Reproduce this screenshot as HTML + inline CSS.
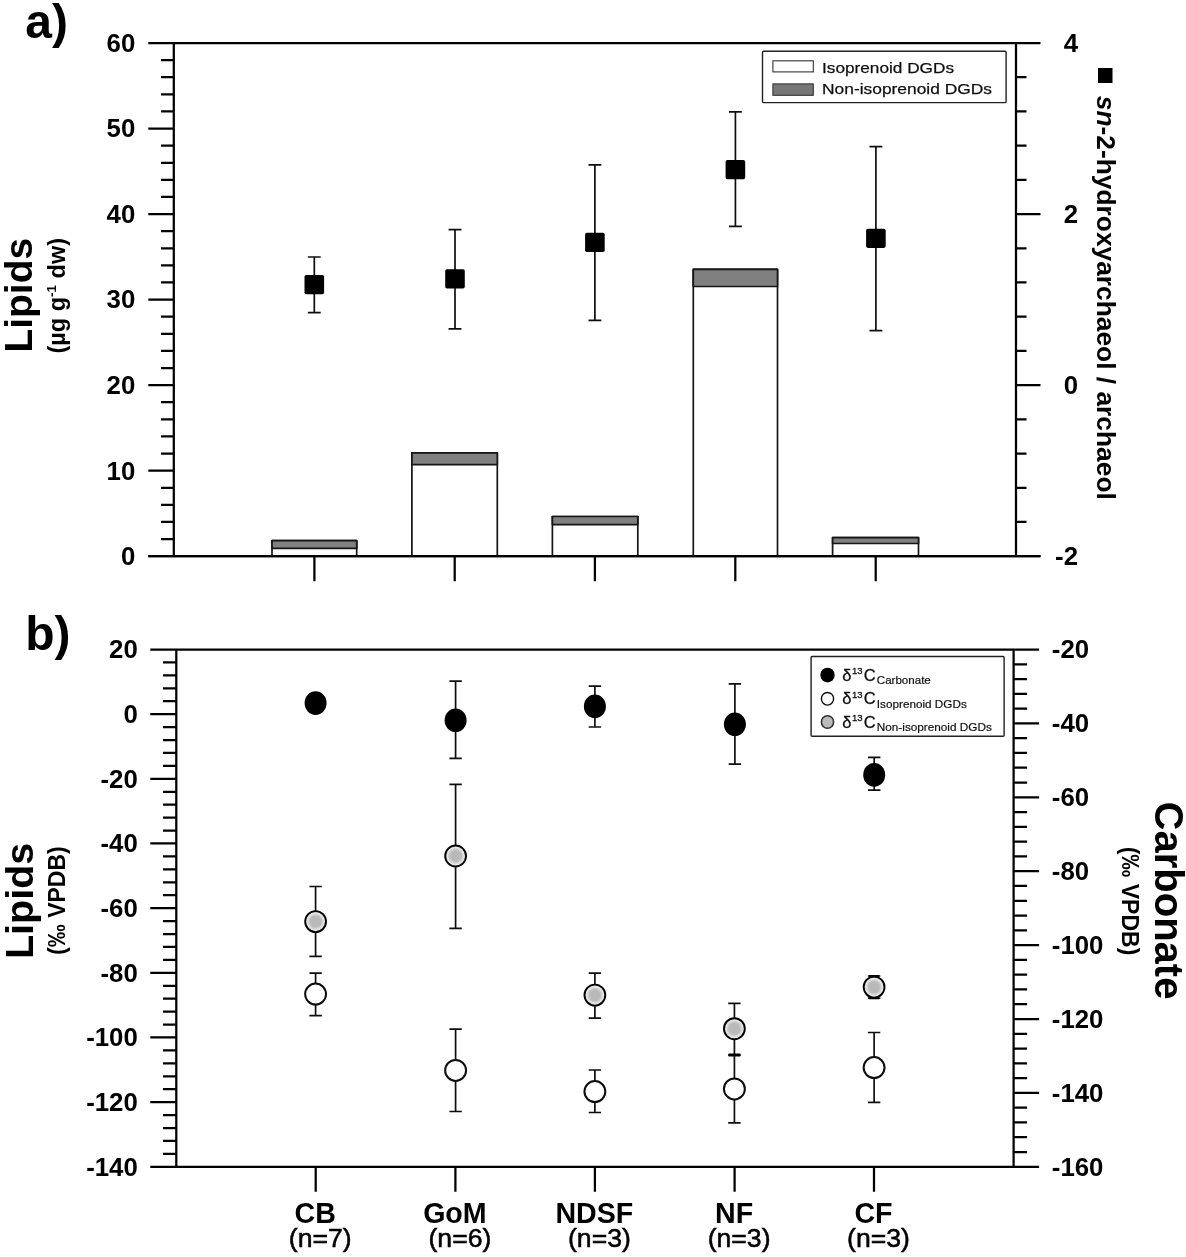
<!DOCTYPE html>
<html><head><meta charset="utf-8"><title>Figure</title>
<style>html,body{margin:0;padding:0;background:#fff}svg{display:block}</style>
</head><body>
<svg width="1186" height="1257" viewBox="0 0 1186 1257">
<defs><filter id="soft" x="0" y="0" width="100%" height="100%" filterUnits="userSpaceOnUse"><feGaussianBlur stdDeviation="0.5"/></filter><filter id="b1" x="-30%" y="-30%" width="160%" height="160%"><feGaussianBlur stdDeviation="0.9"/></filter></defs>
<rect width="1186" height="1257" fill="#fff"/>
<g filter="url(#soft)">
<g stroke="#000" stroke-width="2.25" fill="none" stroke-linecap="butt">
<path d="M148.3,43.0H1040.5"/>
<path d="M148.3,556.2H1040.5"/>
<path d="M173.8,43.0V556.2"/>
<path d="M1016.0,43.0V556.2"/>
<path d="M161.0,539.09H173.8M161.0,521.99H173.8M161.0,504.88H173.8M161.0,487.77H173.8M148.3,470.67H173.8M161.0,453.56H173.8M161.0,436.45H173.8M161.0,419.35H173.8M161.0,402.24H173.8M148.3,385.13H173.8M161.0,368.03H173.8M161.0,350.92H173.8M161.0,333.81H173.8M161.0,316.71H173.8M148.3,299.60H173.8M161.0,282.49H173.8M161.0,265.39H173.8M161.0,248.28H173.8M161.0,231.17H173.8M148.3,214.07H173.8M161.0,196.96H173.8M161.0,179.85H173.8M161.0,162.75H173.8M161.0,145.64H173.8M148.3,128.53H173.8M161.0,111.43H173.8M161.0,94.32H173.8M161.0,77.21H173.8M161.0,60.11H173.8"/>
<path d="M1016.0,521.99H1026.5M1016.0,487.77H1026.5M1016.0,453.56H1026.5M1016.0,419.35H1026.5M1016.0,385.13H1040.5M1016.0,350.92H1026.5M1016.0,316.71H1026.5M1016.0,282.49H1026.5M1016.0,248.28H1026.5M1016.0,214.07H1040.5M1016.0,179.85H1026.5M1016.0,145.64H1026.5M1016.0,111.43H1026.5M1016.0,77.21H1026.5"/>
<path d="M314.4,556.2V581.2M454.7,556.2V581.2M594.9,556.2V581.2M735.3,556.2V581.2M875.7,556.2V581.2"/>
</g>
<g stroke="#151515" stroke-width="1.7" stroke-linejoin="round">
<rect x="272.0" y="540.7" width="84.7" height="15.5" fill="#fff"/>
<rect x="272.0" y="540.7" width="84.7" height="7.7" fill="#808080"/>
<rect x="411.9" y="452.8" width="85.4" height="103.4" fill="#fff"/>
<rect x="411.9" y="452.8" width="85.4" height="11.8" fill="#808080"/>
<rect x="552.4" y="516.5" width="85.4" height="39.7" fill="#fff"/>
<rect x="552.4" y="516.5" width="85.4" height="8.1" fill="#808080"/>
<rect x="693.3" y="269.4" width="84.2" height="286.8" fill="#fff"/>
<rect x="693.3" y="269.4" width="84.2" height="17.1" fill="#808080"/>
<rect x="832.6" y="537.7" width="85.9" height="18.5" fill="#fff"/>
<rect x="832.6" y="537.7" width="85.9" height="5.8" fill="#808080"/>
</g>
<path d="M148.3,556.2H1040.5" stroke="#000" stroke-width="2.25"/>
<path d="M314.3,257.0V312.6M307.90000000000003,257.0H320.7M307.90000000000003,312.6H320.7" stroke="#111" stroke-width="1.7" fill="none"/>
<rect x="304.5" y="275.0" width="19.6" height="19.2" rx="1.8" fill="#000"/>
<path d="M455.0,229.6V328.8M448.6,229.6H461.4M448.6,328.8H461.4" stroke="#111" stroke-width="1.7" fill="none"/>
<rect x="445.2" y="269.29999999999995" width="19.6" height="19.2" rx="1.8" fill="#000"/>
<path d="M594.9,164.9V320.4M588.5,164.9H601.3M588.5,320.4H601.3" stroke="#111" stroke-width="1.7" fill="none"/>
<rect x="585.1" y="232.8" width="19.6" height="19.2" rx="1.8" fill="#000"/>
<path d="M735.4,111.9V226.4M729.0,111.9H741.8M729.0,226.4H741.8" stroke="#111" stroke-width="1.7" fill="none"/>
<rect x="725.6" y="160.1" width="19.6" height="19.2" rx="1.8" fill="#000"/>
<path d="M875.9,146.6V330.7M869.5,146.6H882.3M869.5,330.7H882.3" stroke="#111" stroke-width="1.7" fill="none"/>
<rect x="866.1" y="228.70000000000002" width="19.6" height="19.2" rx="1.8" fill="#000"/>
<rect x="762.5" y="51.3" width="243.6" height="51.3" fill="#fff" stroke="#222" stroke-width="1.4" rx="1"/>
<rect x="772.9" y="60.8" width="40.4" height="11.1" fill="#fff" stroke="#333" stroke-width="1.1"/>
<rect x="772.9" y="83.9" width="40.4" height="11.4" fill="#777" stroke="#333" stroke-width="1.1"/>
<g font-family="Liberation Sans, Arial, sans-serif" font-size="15.5" fill="#111" stroke="#111" stroke-width="0.25">
<text x="822" y="72.6" textLength="132" lengthAdjust="spacingAndGlyphs">Isoprenoid DGDs</text>
<text x="822" y="94.0" textLength="170" lengthAdjust="spacingAndGlyphs">Non-isoprenoid DGDs</text>
</g>
<g font-family="Liberation Sans, Arial, sans-serif" font-weight="bold" font-size="25.8" fill="#000">
<text x="135.3" y="565.0" text-anchor="end">0</text>
<text x="135.3" y="479.5" text-anchor="end">10</text>
<text x="135.3" y="393.9" text-anchor="end">20</text>
<text x="135.3" y="308.4" text-anchor="end">30</text>
<text x="135.3" y="222.9" text-anchor="end">40</text>
<text x="135.3" y="137.3" text-anchor="end">50</text>
<text x="135.3" y="51.8" text-anchor="end">60</text>
<text x="1078" y="565.0" text-anchor="end">-2</text>
<text x="1078" y="393.9" text-anchor="end">0</text>
<text x="1078" y="222.9" text-anchor="end">2</text>
<text x="1078" y="51.8" text-anchor="end">4</text>
</g>
<g stroke="#000" stroke-width="2.25" fill="none">
<path d="M150.3,649.5H1039.1"/>
<path d="M150.3,1166.8H1039.1"/>
<path d="M176.3,649.5V1166.8"/>
<path d="M1013.6,649.5V1166.8"/>
<path d="M163.0,662.43H176.3M163.0,675.37H176.3M163.0,688.30H176.3M163.0,701.23H176.3M150.3,714.16H176.3M163.0,727.10H176.3M163.0,740.03H176.3M163.0,752.96H176.3M163.0,765.89H176.3M150.3,778.83H176.3M163.0,791.76H176.3M163.0,804.69H176.3M163.0,817.62H176.3M163.0,830.55H176.3M150.3,843.49H176.3M163.0,856.42H176.3M163.0,869.35H176.3M163.0,882.28H176.3M163.0,895.22H176.3M150.3,908.15H176.3M163.0,921.08H176.3M163.0,934.01H176.3M163.0,946.95H176.3M163.0,959.88H176.3M150.3,972.81H176.3M163.0,985.75H176.3M163.0,998.68H176.3M163.0,1011.61H176.3M163.0,1024.54H176.3M150.3,1037.47H176.3M163.0,1050.41H176.3M163.0,1063.34H176.3M163.0,1076.27H176.3M163.0,1089.20H176.3M150.3,1102.14H176.3M163.0,1115.07H176.3M163.0,1128.00H176.3M163.0,1140.93H176.3M163.0,1153.87H176.3"/>
<path d="M1013.6,664.28H1027.1M1013.6,679.06H1027.1M1013.6,693.84H1027.1M1013.6,708.62H1027.1M1013.6,723.40H1039.1M1013.6,738.18H1027.1M1013.6,752.96H1027.1M1013.6,767.74H1027.1M1013.6,782.52H1027.1M1013.6,797.30H1039.1M1013.6,812.08H1027.1M1013.6,826.86H1027.1M1013.6,841.64H1027.1M1013.6,856.42H1027.1M1013.6,871.20H1039.1M1013.6,885.98H1027.1M1013.6,900.76H1027.1M1013.6,915.54H1027.1M1013.6,930.32H1027.1M1013.6,945.10H1039.1M1013.6,959.88H1027.1M1013.6,974.66H1027.1M1013.6,989.44H1027.1M1013.6,1004.22H1027.1M1013.6,1019.00H1039.1M1013.6,1033.78H1027.1M1013.6,1048.56H1027.1M1013.6,1063.34H1027.1M1013.6,1078.12H1027.1M1013.6,1092.90H1039.1M1013.6,1107.68H1027.1M1013.6,1122.46H1027.1M1013.6,1137.24H1027.1M1013.6,1152.02H1027.1"/>
<path d="M315.7,1166.8V1191.8M455.4,1166.8V1191.8M594.9,1166.8V1191.8M734.6,1166.8V1191.8M874.0,1166.8V1191.8"/>
</g>
<path d="M315.6,973.2V1015.7M309.40000000000003,973.2H321.8M309.40000000000003,1015.7H321.8" stroke="#111" stroke-width="1.7" fill="none"/>
<ellipse cx="315.6" cy="994.1" rx="10.45" ry="10.5" fill="#fff" stroke="#0a0a0a" stroke-width="2.0"/>
<path d="M455.6,1029.2V1111.5M449.40000000000003,1029.2H461.8M449.40000000000003,1111.5H461.8" stroke="#111" stroke-width="1.7" fill="none"/>
<ellipse cx="455.6" cy="1070.4" rx="10.45" ry="10.5" fill="#fff" stroke="#0a0a0a" stroke-width="2.0"/>
<path d="M594.9,1070.0V1112.5M588.6999999999999,1070.0H601.1M588.6999999999999,1112.5H601.1" stroke="#111" stroke-width="1.7" fill="none"/>
<ellipse cx="594.9" cy="1091.6" rx="10.45" ry="10.5" fill="#fff" stroke="#0a0a0a" stroke-width="2.0"/>
<path d="M734.4,1055.0V1122.9M728.1999999999999,1055.0H740.6M728.1999999999999,1122.9H740.6" stroke="#111" stroke-width="1.7" fill="none"/>
<ellipse cx="734.4" cy="1088.9" rx="10.45" ry="10.5" fill="#fff" stroke="#0a0a0a" stroke-width="2.0"/>
<path d="M874.1,1032.5V1102.4M867.9,1032.5H880.3000000000001M867.9,1102.4H880.3000000000001" stroke="#111" stroke-width="1.7" fill="none"/>
<ellipse cx="874.1" cy="1067.6" rx="10.45" ry="10.5" fill="#fff" stroke="#0a0a0a" stroke-width="2.0"/>
<path d="M315.6,886.5V956.4M309.40000000000003,886.5H321.8M309.40000000000003,956.4H321.8" stroke="#111" stroke-width="1.7" fill="none"/>
<ellipse cx="315.6" cy="921.6" rx="10.4" ry="10.5" fill="#eaeaea" stroke="#050505" stroke-width="1.95"/>
<ellipse cx="315.6" cy="921.6" rx="7.1" ry="7.2" fill="#b9b9b9" filter="url(#b1)"/>
<path d="M455.6,784.4V928.4M449.40000000000003,784.4H461.8M449.40000000000003,928.4H461.8" stroke="#111" stroke-width="1.7" fill="none"/>
<ellipse cx="455.6" cy="856.0" rx="10.4" ry="10.5" fill="#eaeaea" stroke="#050505" stroke-width="1.95"/>
<ellipse cx="455.6" cy="856.0" rx="7.1" ry="7.2" fill="#b9b9b9" filter="url(#b1)"/>
<path d="M594.9,973.2V1018.1M588.6999999999999,973.2H601.1M588.6999999999999,1018.1H601.1" stroke="#111" stroke-width="1.7" fill="none"/>
<ellipse cx="594.9" cy="995.1" rx="10.4" ry="10.5" fill="#eaeaea" stroke="#050505" stroke-width="1.95"/>
<ellipse cx="594.9" cy="995.1" rx="7.1" ry="7.2" fill="#b9b9b9" filter="url(#b1)"/>
<path d="M734.4,1003.4V1055.0M728.1999999999999,1003.4H740.6M728.1999999999999,1055.0H740.6" stroke="#111" stroke-width="1.7" fill="none"/>
<ellipse cx="734.4" cy="1028.7" rx="10.4" ry="10.5" fill="#eaeaea" stroke="#050505" stroke-width="1.95"/>
<ellipse cx="734.4" cy="1028.7" rx="7.1" ry="7.2" fill="#b9b9b9" filter="url(#b1)"/>
<path d="M874.1,976.0V998.2M867.9,976.0H880.3000000000001M867.9,998.2H880.3000000000001" stroke="#111" stroke-width="1.7" fill="none"/>
<ellipse cx="874.1" cy="987.1" rx="10.4" ry="10.5" fill="#eaeaea" stroke="#050505" stroke-width="1.95"/>
<ellipse cx="874.1" cy="987.1" rx="7.1" ry="7.2" fill="#b9b9b9" filter="url(#b1)"/>
<path d="M728.6,1055H740.2" stroke="#000" stroke-width="3"/>
<path d="M869.0,976.1H879.2M869.0,998.1H879.2" stroke="#050505" stroke-width="2.3"/>
<ellipse cx="315.6" cy="703.1" rx="11" ry="11.8" fill="#000"/>
<path d="M455.6,681.1V758.4M449.40000000000003,681.1H461.8M449.40000000000003,758.4H461.8" stroke="#111" stroke-width="1.7" fill="none"/>
<ellipse cx="455.6" cy="720.3" rx="11" ry="11.8" fill="#000"/>
<path d="M594.9,686.2V727.0M588.6999999999999,686.2H601.1M588.6999999999999,727.0H601.1" stroke="#111" stroke-width="1.7" fill="none"/>
<ellipse cx="594.9" cy="706.4" rx="11" ry="11.8" fill="#000"/>
<path d="M734.9,683.8V764.1M728.6999999999999,683.8H741.1M728.6999999999999,764.1H741.1" stroke="#111" stroke-width="1.7" fill="none"/>
<ellipse cx="734.9" cy="724.3" rx="11" ry="11.8" fill="#000"/>
<path d="M874.2,757.4V790.1M868.0,757.4H880.4000000000001M868.0,790.1H880.4000000000001" stroke="#111" stroke-width="1.7" fill="none"/>
<ellipse cx="874.2" cy="774.9" rx="11" ry="11.8" fill="#000"/>
<rect x="811.1" y="656.5" width="193" height="79.8" fill="#fff" stroke="#222" stroke-width="1.4" rx="1"/>
<ellipse cx="827.5" cy="675.1" rx="7.2" ry="7.4" fill="#000"/>
<ellipse cx="827.5" cy="698.8" rx="6.1" ry="6.3" fill="#fff" stroke="#111" stroke-width="1.4"/>
<ellipse cx="827.5" cy="722.0" rx="6.1" ry="6.3" fill="#bbb" stroke="#333" stroke-width="1.6"/>
<g font-family="Liberation Sans, Arial, sans-serif" fill="#111">
<text x="842.3" y="680.6" font-size="16.5" stroke="#111" stroke-width="0.3">δ<tspan font-size="9.5" dy="-6.5" dx="0.6">13</tspan><tspan dy="6.5" dx="1.2">C</tspan></text>
<text x="876.8" y="684.2" font-size="11.5" stroke="#111" stroke-width="0.2" textLength="54" lengthAdjust="spacingAndGlyphs">Carbonate</text>
<text x="842.3" y="704.0" font-size="16.5" stroke="#111" stroke-width="0.3">δ<tspan font-size="9.5" dy="-6.5" dx="0.6">13</tspan><tspan dy="6.5" dx="1.2">C</tspan></text>
<text x="876.8" y="707.6" font-size="11.5" stroke="#111" stroke-width="0.2" textLength="90" lengthAdjust="spacingAndGlyphs">Isoprenoid DGDs</text>
<text x="842.3" y="727.6" font-size="16.5" stroke="#111" stroke-width="0.3">δ<tspan font-size="9.5" dy="-6.5" dx="0.6">13</tspan><tspan dy="6.5" dx="1.2">C</tspan></text>
<text x="876.8" y="731.2" font-size="11.5" stroke="#111" stroke-width="0.2" textLength="115" lengthAdjust="spacingAndGlyphs">Non-isoprenoid DGDs</text>
</g>
<g font-family="Liberation Sans, Arial, sans-serif" font-weight="bold" font-size="25.8" fill="#000">
<text x="137.8" y="658.3" text-anchor="end">20</text>
<text x="137.8" y="723.0" text-anchor="end">0</text>
<text x="137.8" y="787.6" text-anchor="end">-20</text>
<text x="137.8" y="852.3" text-anchor="end">-40</text>
<text x="137.8" y="916.9" text-anchor="end">-60</text>
<text x="137.8" y="981.6" text-anchor="end">-80</text>
<text x="137.8" y="1046.3" text-anchor="end">-100</text>
<text x="137.8" y="1110.9" text-anchor="end">-120</text>
<text x="137.8" y="1175.6" text-anchor="end">-140</text>
<text x="1051.8" y="658.3">-20</text>
<text x="1051.8" y="732.2">-40</text>
<text x="1051.8" y="806.1">-60</text>
<text x="1051.8" y="880.0">-80</text>
<text x="1051.8" y="953.9">-100</text>
<text x="1051.8" y="1027.8">-120</text>
<text x="1051.8" y="1101.7">-140</text>
<text x="1051.8" y="1175.6">-160</text>
</g>
<g font-family="Liberation Sans, Arial, sans-serif" fill="#000" text-anchor="middle">
<text x="315.2" y="1222.8" font-size="28.6" font-weight="bold">CB</text>
<text x="320.2" y="1247.0" font-size="26.6" stroke="#000" stroke-width="0.55">(n=7)</text>
<text x="454.9" y="1222.8" font-size="28.6" font-weight="bold">GoM</text>
<text x="459.9" y="1247.0" font-size="26.6" stroke="#000" stroke-width="0.55">(n=6)</text>
<text x="594.4" y="1222.8" font-size="28.6" font-weight="bold">NDSF</text>
<text x="599.4" y="1247.0" font-size="26.6" stroke="#000" stroke-width="0.55">(n=3)</text>
<text x="734.1" y="1222.8" font-size="28.6" font-weight="bold">NF</text>
<text x="739.1" y="1247.0" font-size="26.6" stroke="#000" stroke-width="0.55">(n=3)</text>
<text x="873.5" y="1222.8" font-size="28.6" font-weight="bold">CF</text>
<text x="878.5" y="1247.0" font-size="26.6" stroke="#000" stroke-width="0.55">(n=3)</text>
</g>
<g font-family="Liberation Sans, Arial, sans-serif" font-weight="bold" fill="#000">
<text x="25.3" y="37.6" font-size="48">a)</text>
<text x="25.3" y="649.5" font-size="48">b)</text>
<text transform="translate(31.9,295.2) rotate(-90)" text-anchor="middle" font-size="39">Lipids</text>
<text transform="translate(65.0,295.8) rotate(-90)" text-anchor="middle" font-size="23.5">(µg g<tspan font-size="13.5" dy="-9">-1</tspan><tspan dy="9"> dw)</tspan></text>
<text transform="translate(32.7,900.9) rotate(-90)" text-anchor="middle" font-size="39.5">Lipids</text>
<text transform="translate(65.2,900.6) rotate(-90)" text-anchor="middle" font-size="23">(‰ VPDB)</text>
<text transform="translate(1154.7,900.5) rotate(90)" text-anchor="middle" font-size="40">Carbonate</text>
<text transform="translate(1121.8,901) rotate(90)" text-anchor="middle" font-size="23">(‰ VPDB)</text>
<text transform="translate(1097,95.8) rotate(90)" font-size="25" textLength="404" lengthAdjust="spacingAndGlyphs"><tspan font-style="italic">sn</tspan>-2-hydroxyarchaeol / archaeol</text>
</g>
<rect x="1098" y="68" width="14.5" height="15" fill="#000"/>
</g>
</svg>
</body></html>
